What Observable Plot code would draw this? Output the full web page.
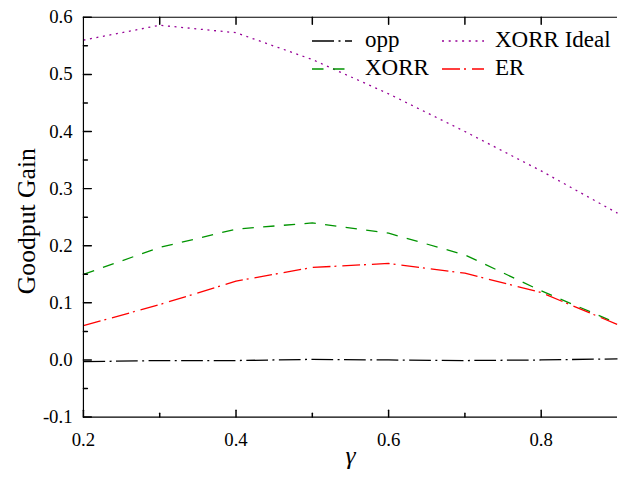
<!DOCTYPE html>
<html>
<head>
<meta charset="utf-8">
<script src="https://cdn.jsdelivr.net/npm/d3@7"></script>
<script src="https://cdn.jsdelivr.net/npm/@observablehq/plot@0.6"></script>
<style>
  html, body { margin: 0; padding: 0; background: #fff; overflow: hidden; }
  #wrap { position: relative; width: 618px; height: 477px; overflow: hidden; background: #fff; }
  #wrap > svg.overlay { position: absolute; left: 0; top: 0; pointer-events: none; }
  #wrap svg text { font-family: "Liberation Serif", "Times New Roman", serif; }
  #wrap svg g[aria-label="y-axis tick label"] text,
  #wrap svg g[aria-label="x-axis tick label"] text { font-size: 19px; }
</style>
</head>
<body>
<div id="wrap"></div>
<script>
// Goodput gain versus gamma for the four schemes
const gamma = [0.2, 0.3, 0.4, 0.5, 0.6, 0.7, 0.8, 0.9];
const opp   = [-0.003, -0.001, -0.001, 0.001, 0.000, -0.001, 0.000, 0.002];
const xorr  = [0.150, 0.197, 0.229, 0.240, 0.222, 0.184, 0.121, 0.064];
const er    = [0.060, 0.097, 0.138, 0.162, 0.169, 0.152, 0.118, 0.062];
const xorrIdeal = [0.560, 0.586, 0.573, 0.526, 0.466, 0.400, 0.331, 0.257];

// Axis ticks and labels
const xDomain = [0.2, 0.9];
const yDomain = [-0.1, 0.6];
const xLabelTicks = [0.2, 0.4, 0.6, 0.8];
const xMinorTicks = [0.3, 0.5, 0.7];
const xTopTicks = [0.3, 0.4, 0.5, 0.6, 0.7, 0.8];
const yMajorTicks = [-0.1, 0.0, 0.1, 0.2, 0.3, 0.4, 0.5, 0.6];
const yMinorTicks = [-0.05, 0.05, 0.15, 0.25, 0.35, 0.45, 0.55];

const series = [
  {name: "opp",        values: opp,       color: "#000000", dash: "22,4.5,2,4.5"},
  {name: "XORR",       values: xorr,      color: "#009400", dash: "11.5,9.5"},
  {name: "XORR Ideal", values: xorrIdeal, color: "#960096", dash: "2,4.7"},
  {name: "ER",         values: er,        color: "#ff0000", dash: "18,4,2,6"}
];

const table = s => gamma.map((g, i) => ({gamma: g, gain: s.values[i]}));

// a plain tick stroke for vector marks
const tickShape = {draw(context, l) { context.moveTo(0, 0); context.lineTo(0, -l); }};

const fmt = d => d.toFixed(1);
const font = "'Liberation Serif', 'Times New Roman', serif";

const chart = Plot.plot({
  width: 626,
  height: 477,
  marginLeft: 84,
  marginRight: 1,
  marginTop: 17,
  marginBottom: 55,
  x: {domain: xDomain},
  y: {domain: yDomain},
  style: {fontFamily: font, fontSize: "19px", color: "#000", background: "#fff"},
  marks: [
    // curves
    ...series.map(s => Plot.line(table(s), {
      x: "gamma", y: "gain",
      stroke: s.color, strokeWidth: 1.3, strokeDasharray: s.dash,
      strokeLinejoin: "miter", strokeLinecap: "butt"
    })),
    // frame
    Plot.ruleX([xDomain[0]], {stroke: "#000", strokeWidth: 1.2}),
    Plot.ruleY(yDomain, {stroke: "#000", strokeWidth: 1.2}),
    // inward ticks
    Plot.vector(yMajorTicks, {x: xDomain[0], y: d => d, rotate: 90, length: 8, anchor: "start", shape: tickShape, stroke: "#000"}),
    Plot.vector(yMinorTicks, {x: xDomain[0], y: d => d, rotate: 90, length: 4, anchor: "start", shape: tickShape, stroke: "#000"}),
    Plot.vector(xLabelTicks, {x: d => d, y: yDomain[0], rotate: 0, length: 7, anchor: "start", shape: tickShape, stroke: "#000"}),
    Plot.vector(xMinorTicks, {x: d => d, y: yDomain[0], rotate: 0, length: 4, anchor: "start", shape: tickShape, stroke: "#000"}),
    Plot.vector(xTopTicks, {x: d => d, y: yDomain[1], rotate: 180, length: 7, anchor: "start", shape: tickShape, stroke: "#000"}),
    // tick labels
    Plot.axisY({ticks: yMajorTicks, tickSize: 0, tickPadding: 11, tickFormat: fmt, label: null, fontSize: 19}),
    Plot.axisX({ticks: xLabelTicks, tickSize: 0, tickPadding: 16, tickFormat: fmt, label: null, fontSize: 19}),
    // axis titles
    Plot.text(["Goodput Gain"], {text: d => d, frameAnchor: "left", textAnchor: "middle", lineAnchor: "middle", rotate: -90, dx: -57, dy: 4, fontSize: 26}),
    Plot.text(["\u03b3"], {text: d => d, frameAnchor: "bottom", textAnchor: "middle", lineAnchor: "middle", dy: 39, fontSize: 26, fontStyle: "italic"})
  ]
});

const wrap = document.getElementById("wrap");
wrap.appendChild(chart);

// legend in two columns at the top right of the plot area
const ns = "http://www.w3.org/2000/svg";
const legend = document.createElementNS(ns, "svg");
legend.setAttribute("class", "overlay");
legend.setAttribute("width", 618);
legend.setAttribute("height", 477);
const cols = [{x0: 312, x1: 352, tx: 365}, {x0: 442, x1: 484, tx: 495}];
const rowsY = [41, 69];
const order = [["opp", 0, 0], ["XORR Ideal", 1, 0], ["XORR", 0, 1], ["ER", 1, 1]];
for (const [name, c, r] of order) {
  const s = series.find(d => d.name === name);
  const col = cols[c], y = rowsY[r];
  const line = document.createElementNS(ns, "line");
  line.setAttribute("x1", col.x0); line.setAttribute("x2", col.x1);
  line.setAttribute("y1", y); line.setAttribute("y2", y);
  line.setAttribute("stroke", s.color);
  line.setAttribute("stroke-width", 1.3);
  line.setAttribute("stroke-dasharray", s.dash);
  legend.appendChild(line);
  const t = document.createElementNS(ns, "text");
  t.setAttribute("x", col.tx);
  t.setAttribute("y", y + 6);
  t.setAttribute("font-size", 23);
  t.setAttribute("fill", "#000");
  t.textContent = name;
  legend.appendChild(t);
}
wrap.appendChild(legend);
</script>
</body>
</html>
